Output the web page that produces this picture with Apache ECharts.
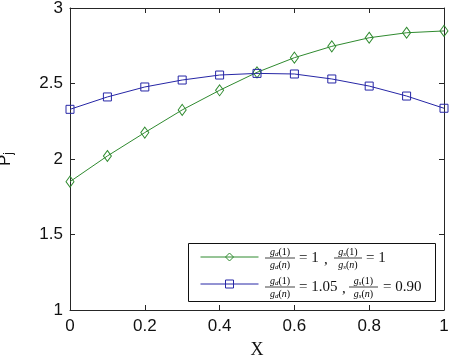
<!DOCTYPE html>
<html>
<head>
<meta charset="utf-8">
<script src="https://cdn.jsdelivr.net/npm/echarts@6/dist/echarts.min.js"></script>
<style>html,body{margin:0;padding:0;background:#fff;}#c{width:449px;height:359px;}</style>
</head>
<body>
<div id="c"></div>
<script>
const xValues = [0, 0.1, 0.2, 0.3, 0.4, 0.5, 0.6, 0.7, 0.8, 0.9, 1.0];
const greenValues = [1.85, 2.02, 2.175, 2.325, 2.455, 2.574, 2.671, 2.746, 2.803, 2.836, 2.848];
const blueValues = [2.329, 2.411, 2.477, 2.523, 2.556, 2.567, 2.563, 2.530, 2.483, 2.417, 2.336];
const seriesNames = ['ratio1', 'ratio2'];

const GREEN = '#2f8a2f';
const BLUE = '#2626a6';
const AXIS = '#262626';

const chart = echarts.init(document.getElementById('c'), null, {renderer: 'canvas'});

const serif = 'Liberation Serif';
const fracRich = {
  i: {fontFamily: serif, fontStyle: 'italic', fontSize: 10, color: '#111'},
  s: {fontFamily: serif, fontStyle: 'italic', fontSize: 7, color: '#111', padding: [4, 0, 0, 0]},
  r: {fontFamily: serif, fontSize: 10, color: '#111'},
  ri: {fontFamily: serif, fontStyle: 'italic', fontSize: 10, color: '#111'}
};
function frac(x1, x2, yc, sub) {
  const cx = (x1 + x2) / 2;
  return [
    {type: 'text', x: cx, y: yc - 6, style: {text: '{i|g}{s|' + sub + '}{r|(1)}', rich: fracRich, align: 'center', verticalAlign: 'middle'}, z: 100},
    {type: 'line', shape: {x1: x1, y1: yc, x2: x2, y2: yc}, style: {stroke: '#111', lineWidth: 0.8}, z: 100},
    {type: 'text', x: cx, y: yc + 7, style: {text: '{i|g}{s|' + sub + '}{r|(}{ri|n}{r|)}', rich: fracRich, align: 'center', verticalAlign: 'middle'}, z: 100}
  ];
}
function txt(x, yc, s) {
  return {type: 'text', x: x, y: yc, style: {text: s, fontFamily: serif, fontSize: 15, fill: '#111', verticalAlign: 'middle'}, z: 100};
}
const r1 = 258, r2 = 287;
const graphics = [].concat(
  [{type: 'rect', shape: {x: 188.5, y: 243.5, width: 247, height: 58}, style: {fill: '#fff', stroke: '#111', lineWidth: 1}, z: 3}],
  frac(265, 295, r1, 'd'), [txt(299, r1, '= 1'), txt(324, r1 + 2, ',')], frac(334, 362, r1, 's'), [txt(366, r1, '= 1')],
  frac(265, 295, r2, 'd'), [txt(299, r2, '= 1.05'), txt(342, r2 + 2, ',')], frac(349, 378, r2, 's'), [txt(383, r2, '= 0.90')]
);

function pairs(vals) { return xValues.map((x, i) => [x, vals[i]]); }

const option = {
  animation: false,
  backgroundColor: '#fff',
  grid: {left: 70, right: 5, top: 8, bottom: 49, containLabel: false, outerBoundsMode: 'none'},
  xAxis: [
    {type: 'value', min: 0, max: 1, interval: 0.2, position: 'bottom',
      name: 'X', nameLocation: 'middle', nameGap: 31,
      nameTextStyle: {fontFamily: serif, fontSize: 18, color: '#111'},
      axisLine: {show: true, onZero: false, lineStyle: {color: AXIS, width: 1}},
      axisTick: {show: true, inside: true, length: 5, lineStyle: {color: AXIS}},
      axisLabel: {color: '#111', fontFamily: 'Liberation Sans', fontSize: 17, margin: 8},
      splitLine: {show: false}},
    {type: 'value', min: 0, max: 1, interval: 0.2, position: 'top',
      axisLine: {show: true, onZero: false, lineStyle: {color: AXIS, width: 1}},
      axisTick: {show: true, inside: true, length: 5, lineStyle: {color: AXIS}},
      axisLabel: {show: false}, splitLine: {show: false}}
  ],
  yAxis: [
    {type: 'value', min: 1, max: 3, interval: 0.5, position: 'left',
      name: '{p|P}{j|j}', nameLocation: 'middle', nameGap: 55, nameRotate: 90,
      nameTextStyle: {rich: {
        p: {fontFamily: 'Liberation Sans', fontSize: 17, color: '#111'},
        j: {fontFamily: 'Liberation Sans', fontSize: 12, color: '#111', padding: [8, 0, 0, 0]}
      }},
      axisLine: {show: true, onZero: false, lineStyle: {color: AXIS, width: 1}},
      axisTick: {show: true, inside: true, length: 5, lineStyle: {color: AXIS}},
      axisLabel: {color: '#111', fontFamily: 'Liberation Sans', fontSize: 17, margin: 7},
      splitLine: {show: false}},
    {type: 'value', min: 1, max: 3, interval: 0.5, position: 'right',
      axisLine: {show: true, onZero: false, lineStyle: {color: AXIS, width: 1}},
      axisTick: {show: true, inside: true, length: 5, lineStyle: {color: AXIS}},
      axisLabel: {show: false}, splitLine: {show: false}}
  ],
  legend: {
    orient: 'vertical', left: 188, top: 243,
    padding: [9, 8, 9, 12], itemGap: 17, itemWidth: 58, itemHeight: 10,
    data: seriesNames,
    formatter: function () { return ' '; },
    textStyle: {fontSize: 10},
    lineStyle: {width: 1},
    itemStyle: {borderWidth: 1},
    selectedMode: false
  },
  series: [
    {name: seriesNames[0], type: 'line', data: pairs(greenValues),
      symbol: 'diamond', symbolSize: [8, 11],
      lineStyle: {color: GREEN, width: 1},
      itemStyle: {color: 'rgba(255,255,255,0)', borderColor: GREEN, borderWidth: 1}},
    {name: seriesNames[1], type: 'line', data: pairs(blueValues),
      symbol: 'rect', symbolSize: 8,
      lineStyle: {color: BLUE, width: 1},
      itemStyle: {color: 'rgba(255,255,255,0)', borderColor: BLUE, borderWidth: 1}}
  ],
  graphic: graphics
};
chart.setOption(option);
</script>
</body>
</html>
